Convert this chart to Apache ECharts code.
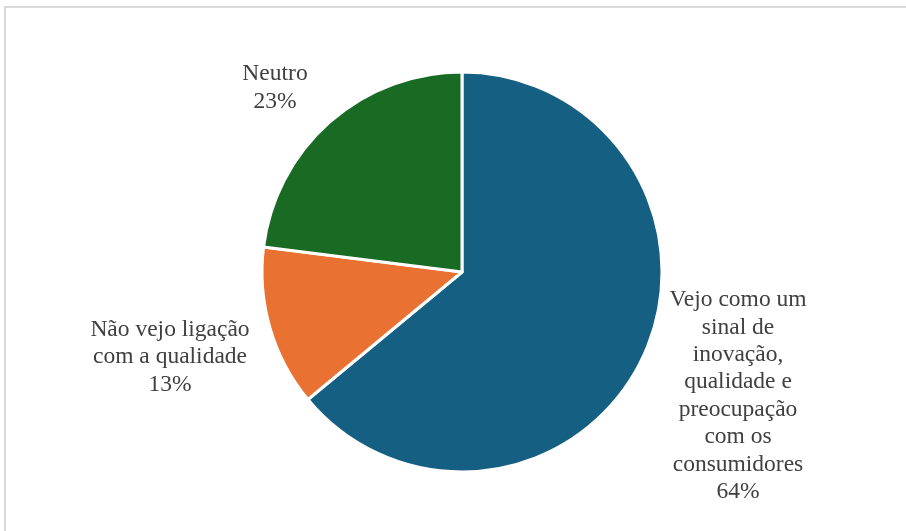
<!DOCTYPE html>
<html>
<head>
<meta charset="utf-8">
<script src="https://cdn.jsdelivr.net/npm/echarts@6/dist/echarts.min.js"></script>
<style>
  html, body { margin: 0; padding: 0; background: #fff; }
  #chart { width: 906px; height: 531px; }
</style>
</head>
<body>
<div id="chart"></div>
<script>
// Answer categories (line breaks as displayed in the labels)
const categories = [
  'Vejo como um\nsinal de\ninovação,\nqualidade e\npreocupação\ncom os\nconsumidores',
  'Não vejo ligação\ncom a qualidade',
  'Neutro'
];
// Share of respondents (%)
const shares = [64, 13, 23];
const colors = ['#156082', '#E97132', '#196B24'];

// Label anchor points (centre of each text block)
const labelAnchors = [[738, 396], [170, 357], [275, 88]];

const chart = echarts.init(document.getElementById('chart'));
chart.setOption({
  animation: false,
  backgroundColor: '#fff',
  graphic: [{
    type: 'rect',
    shape: { x: 5, y: 7, width: 1000, height: 1000 },
    style: { fill: 'none', stroke: '#d9d9d9', lineWidth: 2 },
    silent: true
  }],
  series: [{
    type: 'pie',
    center: [462, 272],
    radius: 200,
    startAngle: 90,
    clockwise: true,
    data: categories.map((name, i) => ({
      name,
      value: shares[i],
      itemStyle: { color: colors[i] }
    })),
    itemStyle: { borderColor: '#fff', borderWidth: 3 },
    label: {
      show: true,
      position: 'outside',
      formatter: '{b}\n{d}%',
      fontFamily: '"Liberation Serif", "Times New Roman", serif',
      fontSize: 23.5,
      lineHeight: 27.4,
      color: '#404040',
      align: 'center',
      verticalAlign: 'middle'
    },
    labelLine: { show: false },
    labelLayout: function (params) {
      const a = labelAnchors[params.dataIndex];
      return { x: a[0], y: a[1], align: 'center', verticalAlign: 'middle' };
    },
    emphasis: { disabled: true }
  }]
});
</script>
</body>
</html>
